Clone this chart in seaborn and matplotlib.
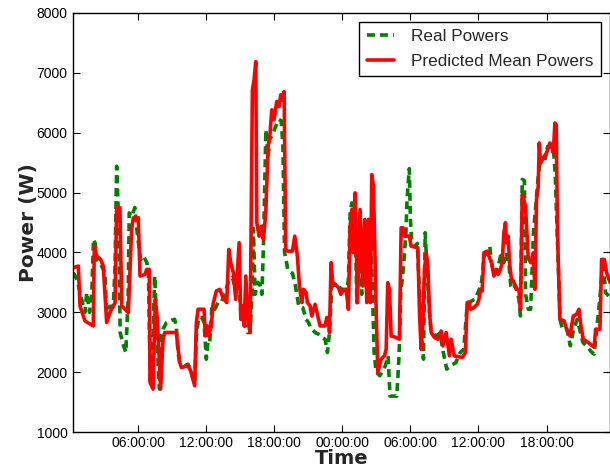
import matplotlib
matplotlib.use("Agg")
import matplotlib.pyplot as plt
from matplotlib.ticker import FixedLocator, FuncFormatter
import seaborn as sns
import pandas as pd

# ---- data (hours since day-1 midnight, watts) ----
real_hours = [0.27, 0.60, 1.00, 1.30, 1.45, 1.70, 1.90, 2.05, 2.20, 2.35, 2.60, 3.05, 3.20, 3.50, 3.80,
              3.95, 4.09, 4.25, 4.40, 4.70, 4.90, 5.10, 5.20, 5.40, 5.70, 5.90, 6.20, 6.45, 6.75, 6.90,
              7.05, 7.20, 7.44, 7.60, 7.80, 7.88, 8.03, 8.18, 8.48, 8.77, 9.20, 9.35, 9.50, 9.65, 10.10,
              10.39, 10.62, 10.82, 10.97, 11.12, 11.32, 11.62, 11.80, 12.00, 12.15, 12.30, 12.50, 12.74,
              13.03, 13.30, 13.62, 14.00, 14.30, 14.59, 14.89, 15.04, 15.33, 15.62, 15.86, 16.05, 16.15,
              16.30, 16.55, 16.75, 16.90, 17.05, 17.25, 17.45, 17.60, 17.80, 18.10, 18.40, 18.60, 18.75,
              18.90, 19.20, 19.60, 19.85, 20.15, 20.50, 20.80, 21.00, 21.30, 21.60, 21.90, 22.20, 22.47,
              22.68, 22.86, 23.06, 23.50, 23.95, 24.40, 24.53, 24.68, 24.83, 24.97, 25.12, 25.27, 25.50,
              25.70, 25.90, 26.15, 26.30, 26.50, 26.68, 26.80, 26.97, 27.30, 27.77, 28.03, 28.20, 28.80,
              29.00, 29.15, 29.40, 29.60, 29.70, 29.90, 30.00, 30.10, 30.40, 30.60, 30.80, 31.00, 31.15,
              31.30, 31.45, 31.60, 31.80, 32.20, 32.60, 32.90, 33.20, 33.50, 34.00, 34.40, 34.70, 35.00,
              35.40, 35.70, 36.20, 36.30, 36.50, 36.80, 37.00, 37.15, 37.36, 37.65, 37.94, 38.10, 38.24,
              38.44, 38.70, 38.85, 39.00, 39.30, 39.57, 39.70, 39.86, 40.05, 40.15, 40.40, 40.60, 40.85,
              41.10, 41.25, 41.45, 41.75, 41.90, 42.10, 42.60, 42.77, 43.00, 43.20, 43.40, 43.80, 44.10,
              44.40, 44.70, 45.00, 45.20, 45.50, 46.00, 46.20, 46.40, 46.70, 47.00, 47.20, 47.60]
real_power = [3660, 3550, 3217, 3000, 3330, 3000, 3330, 4220, 4150, 3880, 3830, 3670, 3000, 3100, 3100,
              3780, 5440, 4600, 2660, 2440, 2330, 3220, 4660, 4600, 4750, 4330, 3880, 3940, 3830, 3600,
              1880, 1850, 3605, 2938, 1833, 1717, 2605, 2717, 2828, 2855, 2883, 2772, 2328, 2162, 2105,
              2133, 2050, 1883, 1830, 2605, 2912, 2912, 2828, 2217, 2522, 2500, 3105, 3050,
              3162, 3162, 3300, 3550, 3578, 3383, 3438, 2995, 2828, 2662, 2662, 3400, 4400,
              3300, 3500, 3450, 3300, 4200, 6050, 5600, 5900, 5950, 6100, 6220, 6200, 5800,
              4000, 3700, 3650, 3450, 3100, 3080, 2883, 2830, 2717, 2662, 2633, 2580, 2550,
              2328, 2662, 3438, 3467, 3383, 3383, 3550, 4662, 4828, 4550, 4770, 3162, 4550,
              3300, 4272, 3383, 4550, 4330, 3162, 2328, 2000, 1940, 2100, 2270, 1600, 1600,
              2300, 3330, 3780, 4330, 4880, 5400, 4550, 4217, 4100, 4150, 3330, 2660, 2217,
              4330, 3780, 3220, 2717, 2600, 2650, 2330, 2050, 2100, 2160, 2330, 2380, 3110,
              3190, 3220, 3440, 3550, 3940, 4000, 4100, 3830, 3660, 3660, 3940, 3880, 3830,
              4000, 3780, 3440, 3383, 3440, 3217, 2940, 5220, 5200, 3300, 3050, 3050, 4330,
              4880, 5220, 5550, 5570, 5570, 5770, 5770, 5300, 4000, 2880, 2720, 2720, 2440,
              2720, 2880, 2660, 2500, 2440, 2330, 2300, 2660, 3220, 3860, 3330, 3250]

pred_hours = [0.27, 0.71, 0.86, 1.30, 2.03, 2.12, 2.33, 2.68, 2.91, 3.21, 3.50, 3.79, 3.95, 4.09, 4.38,
              4.54, 5.12, 5.41, 5.56, 6.00, 6.15, 6.59, 6.74, 6.97, 7.03, 7.30, 7.50, 7.68, 7.97, 8.18,
              8.33, 9.35, 9.65, 9.80, 10.39, 10.62, 10.97, 11.12, 11.27, 11.80, 11.91, 12.09, 12.18,
              12.44, 12.59, 12.88, 13.18, 13.47, 13.80, 13.98, 14.15, 14.38, 14.59, 14.89, 15.04, 15.18,
              15.33, 15.48, 15.68, 15.86, 16.06, 16.21, 16.36, 16.45, 16.65, 16.85, 17.03, 17.24, 17.45,
              17.62, 17.77, 17.97, 18.21, 18.41, 18.56, 18.68, 18.86, 19.00, 19.15, 19.59, 19.80, 20.03,
              20.21, 20.42, 20.56, 20.80, 20.91, 21.15, 21.30, 21.59, 21.89, 22.03, 22.47, 22.62, 22.80,
              22.86, 23.00, 23.15, 23.36, 23.65, 23.86, 24.03, 24.33, 24.53, 24.68, 24.83, 24.97, 25.12,
              25.33, 25.56, 25.80, 25.97, 26.15, 26.33, 26.47, 26.59, 26.74, 26.97, 27.12, 27.42, 27.71,
              27.86, 28.00, 28.15, 28.30, 28.74, 29.03, 29.18, 29.33, 29.47, 29.91, 30.06, 30.65, 30.80,
              30.94, 31.09, 31.24, 31.39, 31.54, 31.68, 31.83, 32.12, 32.42, 32.71, 32.86, 33.15, 33.44,
              33.59, 33.86, 34.56, 34.85, 35.00, 35.15, 35.30, 35.60, 35.89, 36.04, 36.18, 36.33, 36.48,
              36.77, 36.92, 37.15, 37.36, 37.56, 37.74, 37.94, 38.09, 38.24, 38.38, 38.47, 38.62, 38.74,
              38.91, 39.09, 39.33, 39.57, 39.71, 39.86, 40.00, 40.15, 40.39, 40.62, 40.83, 40.98, 41.12,
              41.27, 41.36, 41.47, 41.71, 42.00, 42.30, 42.45, 42.60, 42.74, 42.86, 42.97, 43.18, 43.56,
              43.77, 44.07, 44.36, 44.65, 44.86, 45.04, 45.24, 45.68, 46.04, 46.21, 46.33, 46.71, 46.86,
              47.10, 47.30, 47.60]
pred_power = [3745, 3772, 3105, 2855, 2772, 4105, 3938, 3883, 3772, 2828, 2995, 3105, 3160, 4772, 4745,
              3105, 2995, 4383, 4578, 4578, 3605, 3633, 3717, 3717, 1828, 1717, 3217, 2883, 1717, 2550,
              2662, 2662, 2162, 2078, 2105, 2022, 1772, 2828, 3050, 3050, 2605, 2772, 2605,
              2772, 3133, 3355, 3383, 3245, 3162, 4050, 3828, 3662, 3217, 4162, 2883, 3105,
              2772, 3605, 2828, 2662, 6717, 6883, 7188, 4495, 4272, 4438, 4217, 4662, 5772,
              5995, 6383, 6217, 6522, 6438, 6633, 6550, 6688, 4050, 4022, 4022, 4272, 3938,
              3438, 3162, 3383, 3328, 3162, 3105, 2938, 3133, 2883, 2772, 2772, 2912, 2850,
              2662, 3828, 3495, 3467, 3412, 3300, 3355, 3383, 3050, 4438, 4717, 3995, 4995,
              3162, 4717, 3438, 4550, 3162, 4550, 3162, 5300, 5105, 3105, 1995, 2217, 2272,
              2383, 3495, 3383, 2605, 2578, 2550, 4412, 4412, 4272, 4272, 4105, 4078, 2995,
              2383, 2772, 3717, 3995, 3772, 2995, 2662, 2578, 2550, 2688, 2438, 2662, 2272,
              2550, 2272, 2245, 2328, 3162, 3172, 3050, 3078, 3133, 3217, 3383, 3355, 3995,
              4022, 3938, 3828, 3605, 3717, 3633, 3717, 3828, 4328, 4495, 4162, 4272, 3828,
              3550, 3522, 3383, 3383, 3050, 4967, 4883, 4772, 3900, 3828, 3995, 3383, 4883,
              5105, 5828, 5495, 5578, 5662, 5828, 5772, 5662, 6162, 6133, 4328, 2883, 2855,
              2717, 2605, 2938, 2967, 3050, 2772, 2550, 2495, 2438, 2420, 2717, 2717, 3883,
              3883, 3662, 3500]

tick_hours = [6, 12, 18, 24, 30, 36, 42]
y_ticks = [1000, 2000, 3000, 4000, 5000, 6000, 7000, 8000]

sns.set_style("ticks")
plt.rcParams["font.family"] = ["Liberation Sans", "DejaVu Sans"]

fig = plt.figure(figsize=(6.10, 4.69), dpi=100)
ax = fig.add_axes([73 / 610, 37 / 469, 537 / 610, 419 / 469])

sns.lineplot(x=real_hours, y=real_power, ax=ax, color=(0, 0.5, 0), lw=2.6,
             dashes=False, estimator=None, sort=False, label="Real Powers")
sns.lineplot(x=pred_hours, y=pred_power, ax=ax, color=(1, 0, 0), lw=2.6,
             estimator=None, sort=False, label="Predicted Mean Powers")
ax.lines[0].set_dashes((2.2, 1.4))

ax.set_xlim(0.24, 47.6)
ax.set_ylim(1000, 8000)
ax.xaxis.set_major_locator(FixedLocator(tick_hours))
ax.xaxis.set_major_formatter(FuncFormatter(lambda h, p: f"{int(round(h)) % 24:02d}:00:00"))
ax.set_yticks(y_ticks)

for s in ax.spines.values():
    s.set_visible(True)
    s.set_color("black")
    s.set_linewidth(1.0)
ax.tick_params(axis="y", pad=4)
ax.tick_params(axis="x", pad=3)
ax.tick_params(direction="in", top=True, right=True, length=5, width=0.8,
               labelsize=10, colors="black")

ax.set_xlabel("Time", fontsize=14, fontweight="bold", family="DejaVu Sans", labelpad=-0.5)
ax.set_ylabel("Power (W)", fontsize=14.5, fontweight="bold", family="DejaVu Sans", labelpad=-1)

leg = ax.legend(loc="upper right", fontsize=12.3, frameon=True, fancybox=False,
                edgecolor="black", framealpha=1, handlelength=1.6, borderaxespad=0.5,
                borderpad=0.45, labelspacing=0.55, handletextpad=1.0)
leg.get_frame().set_linewidth(1.0)
leg.get_lines()[0].set_dashes((2.2, 1.4))

fig.savefig("out.png", dpi=100)
